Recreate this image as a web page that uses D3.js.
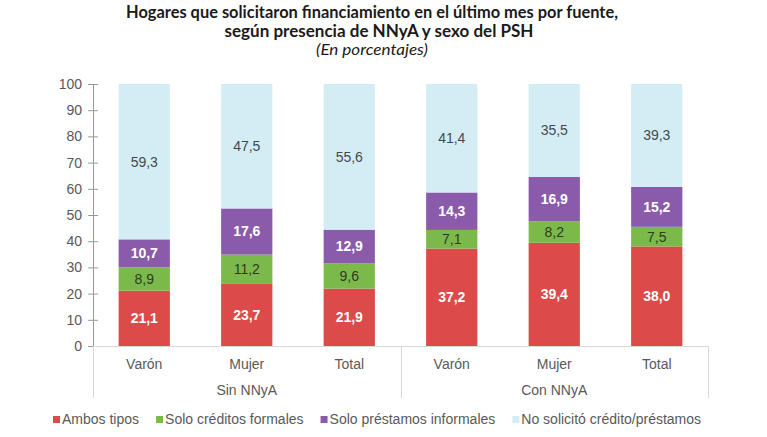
<!DOCTYPE html>
<html>
<head>
<meta charset="utf-8">
<script src="https://cdn.jsdelivr.net/npm/d3@7"></script>
<style>
  html, body { margin: 0; padding: 0; background: #fff; }
  svg { display: block; }
</style>
</head>
<body>
<svg id="chart" width="767" height="437"></svg>
<script>
const categories = ["Varón", "Mujer", "Total", "Varón", "Mujer", "Total"];
const groups = ["Sin NNyA", "Con NNyA"];
const seriesNames = ["Ambos tipos", "Solo créditos formales", "Solo préstamos informales", "No solicitó crédito/préstamos"];
const ambosTipos = [21.1, 23.7, 21.9, 37.2, 39.4, 38.0];
const soloFormales = [8.9, 11.2, 9.6, 7.1, 8.2, 7.5];
const soloInformales = [10.7, 17.6, 12.9, 14.3, 16.9, 15.2];
const noSolicito = [59.3, 47.5, 55.6, 41.4, 35.5, 39.3];
const yTicks = [0, 10, 20, 30, 40, 50, 60, 70, 80, 90, 100];

const colors = ["#dc4a49", "#7cb94b", "#8a5aab", "#d4edf5"];
const labelColors = ["#ffffff", "#2f3a26", "#ffffff", "#3f4a4f"];
const labelWeights = ["bold", "normal", "bold", "normal"];
const FONT = "'Liberation Sans', Arial, sans-serif";

const svg = d3.select("#chart");
const plotLeft = 93, plotRight = 708, plotTop = 84, plotBottom = 346;

const idx = categories.map((c, i) => i);
const x = d3.scaleBand().domain(idx).range([plotLeft, plotRight]).paddingInner(0.5).paddingOuter(0.25);
const y = d3.scaleLinear().domain([0, 100]).range([plotBottom, plotTop]);

// Title
const title = svg.append("g").attr("font-family", "Lato, 'Open Sans', sans-serif").attr("text-anchor", "middle").attr("fill", "#1a1a1a");
title.append("text").attr("x", 372).attr("y", 18).attr("font-size", 16.5).attr("font-weight", "bold")
  .attr("textLength", 492).attr("lengthAdjust", "spacingAndGlyphs")
  .text("Hogares que solicitaron financiamiento en el último mes por fuente,");
title.append("text").attr("x", 379).attr("y", 37).attr("font-size", 16.5).attr("font-weight", "bold")
  .attr("textLength", 309).attr("lengthAdjust", "spacingAndGlyphs")
  .text("según presencia de NNyA y sexo del PSH");
title.append("text").attr("x", 372).attr("y", 55).attr("font-size", 15).attr("font-style", "italic")
  .attr("textLength", 112).attr("lengthAdjust", "spacingAndGlyphs")
  .text("(En porcentajes)");

// Stack data
const table = idx.map(i => ({ i, s0: ambosTipos[i], s1: soloFormales[i], s2: soloInformales[i], s3: noSolicito[i] }));
const stack = d3.stack().keys(["s0", "s1", "s2", "s3"])(table);

const fmt = v => v.toFixed(1).replace(".", ",");

stack.forEach((layer, k) => {
  const g = svg.append("g");
  g.selectAll("rect").data(layer).join("rect")
    .attr("x", d => x(d.data.i))
    .attr("y", d => y(d[1]))
    .attr("width", x.bandwidth())
    .attr("height", d => y(d[0]) - y(d[1]))
    .attr("fill", colors[k]);
  g.selectAll("text").data(layer).join("text")
    .attr("x", d => x(d.data.i) + x.bandwidth() / 2)
    .attr("y", d => y((d[0] + d[1]) / 2))
    .attr("dy", "0.35em")
    .attr("text-anchor", "middle")
    .attr("font-family", FONT)
    .attr("font-size", 14)
    .attr("font-weight", labelWeights[k])
    .attr("fill", labelColors[k])
    .text(d => fmt(d[1] - d[0]));
});

// Left axis
const yAxis = svg.append("g").attr("transform", `translate(${plotLeft},0)`)
  .call(d3.axisLeft(y).tickValues(yTicks).tickSize(5).tickSizeOuter(0).tickPadding(6));
yAxis.select(".domain").attr("stroke", "#999999");
yAxis.selectAll(".tick line").attr("x1", -5).attr("x2", 5).attr("stroke", "#999999");
yAxis.selectAll(".tick text").attr("font-family", FONT).attr("font-size", 14).attr("fill", "#595959");

// Bottom axis with group separators
const axisG = svg.append("g").attr("stroke", "#d9d9d9").attr("stroke-width", 1);
axisG.append("line").attr("x1", plotLeft).attr("x2", plotRight).attr("y1", plotBottom + 0.5).attr("y2", plotBottom + 0.5);
const sepX = [plotLeft, (x(2) + x.bandwidth() + x(3)) / 2, plotRight];
axisG.selectAll(".sep").data(sepX).join("line")
  .attr("x1", d => Math.round(d) + 0.5).attr("x2", d => Math.round(d) + 0.5)
  .attr("y1", plotBottom).attr("y2", 398);

svg.append("g").selectAll("text").data(idx).join("text")
  .attr("x", i => x(i) + x.bandwidth() / 2)
  .attr("y", 364).attr("dy", "0.35em")
  .attr("text-anchor", "middle")
  .attr("font-family", FONT).attr("font-size", 14).attr("fill", "#595959")
  .text(i => categories[i]);

svg.append("g").selectAll("text").data(groups).join("text")
  .attr("x", (d, gi) => (sepX[gi] + sepX[gi + 1]) / 2)
  .attr("y", 390).attr("dy", "0.35em")
  .attr("text-anchor", "middle")
  .attr("font-family", FONT).attr("font-size", 14).attr("fill", "#595959")
  .text(d => d);

// Legend
const legend = svg.append("g");
let lx = 53;
seriesNames.forEach((name, k) => {
  legend.append("rect").attr("x", lx).attr("y", 416).attr("width", 7).attr("height", 7).attr("fill", colors[k]);
  const t = legend.append("text").attr("x", lx + 9).attr("y", 419).attr("dy", "0.35em")
    .attr("font-family", FONT).attr("font-size", 14).attr("fill", "#595959").text(name);
  lx += 9 + t.node().getComputedTextLength() + 17;
});
</script>
</body>
</html>
